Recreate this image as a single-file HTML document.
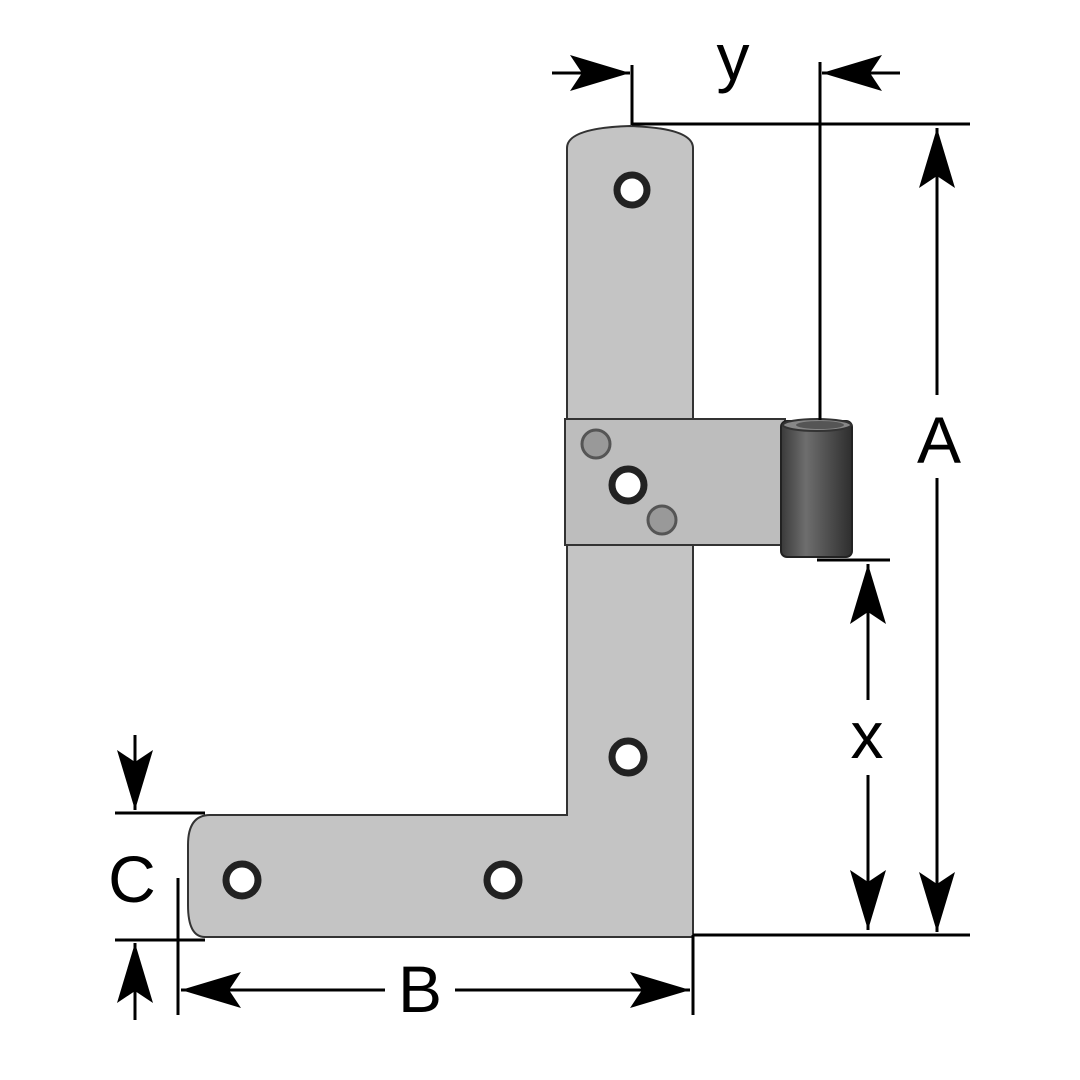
<!DOCTYPE html>
<html><head><style>body{margin:0;background:#fff}svg{display:block}</style></head><body>
<svg width="1080" height="1080" viewBox="0 0 1080 1080" xmlns="http://www.w3.org/2000/svg">
<defs>
<linearGradient id="cyl" x1="0" x2="1"><stop offset="0" stop-color="#3a3a3a"/><stop offset="0.35" stop-color="#6e6e6e"/><stop offset="0.6" stop-color="#555"/><stop offset="1" stop-color="#2e2e2e"/></linearGradient>
<marker id="ah" viewBox="0 0 60 40" refX="60" refY="20" markerWidth="60" markerHeight="40" markerUnits="userSpaceOnUse" orient="auto"><path d="M0,2 L60,20 L0,38 L12,20 Z" fill="#000"/></marker>
</defs>
<g stroke="#333" stroke-width="2" fill="#c4c4c4">
<path d="M567,148 Q567,128 630,126 Q693,128 693,148 L693,937 L205,937 Q188,937 188,905 L188,845 Q188,815 210,815 L567,815 Z"/>
<rect x="565" y="419" width="220" height="126" fill="#bdbdbd"/>
<rect x="781" y="421" width="71" height="136" rx="6" fill="url(#cyl)" stroke="#222"/>
<ellipse cx="817" cy="425" rx="34" ry="6" fill="#888" stroke="#333"/>
<ellipse cx="820" cy="425" rx="24" ry="4" fill="#555" stroke="none"/>
</g>
<g fill="#fff" stroke="#222" stroke-width="7">
<circle cx="632" cy="190" r="15"/><circle cx="628" cy="485" r="16"/><circle cx="628" cy="757" r="16"/><circle cx="242" cy="880" r="16"/><circle cx="503" cy="880" r="16"/>
</g>
<g fill="#999" stroke="#555" stroke-width="3"><circle cx="596" cy="444" r="14"/><circle cx="662" cy="520" r="14"/></g>
<g stroke="#000" stroke-width="3" fill="none">
<line x1="632" y1="65" x2="632" y2="125"/><line x1="632" y1="124" x2="970" y2="124"/>
<line x1="820" y1="62" x2="820" y2="420"/>
<line x1="693" y1="935" x2="970" y2="935"/>
<line x1="817" y1="560" x2="890" y2="560"/>
<line x1="178" y1="878" x2="178" y2="1015"/><line x1="693" y1="935" x2="693" y2="1015"/>
<line x1="115" y1="813" x2="205" y2="813"/><line x1="115" y1="940" x2="205" y2="940"/>
<line x1="552" y1="73" x2="630" y2="73" marker-end="url(#ah)"/>
<line x1="900" y1="73" x2="822" y2="73" marker-end="url(#ah)"/>
<line x1="937" y1="395" x2="937" y2="128" marker-end="url(#ah)"/>
<line x1="937" y1="478" x2="937" y2="932" marker-end="url(#ah)"/>
<line x1="868" y1="700" x2="868" y2="564" marker-end="url(#ah)"/>
<line x1="868" y1="775" x2="868" y2="930" marker-end="url(#ah)"/>
<line x1="385" y1="990" x2="181" y2="990" marker-end="url(#ah)"/>
<line x1="455" y1="990" x2="690" y2="990" marker-end="url(#ah)"/>
<line x1="135" y1="735" x2="135" y2="810" marker-end="url(#ah)"/>
<line x1="135" y1="1020" x2="135" y2="943" marker-end="url(#ah)"/>
</g>
<g font-family="Liberation Sans, sans-serif" font-size="66" fill="#000" text-anchor="middle">
<text x="733" y="80">y</text>
<text x="939" y="463">A</text>
<text x="867" y="758">x</text>
<text x="420" y="1012">B</text>
<text x="132" y="902">C</text>
</g>
</svg>
</body></html>
